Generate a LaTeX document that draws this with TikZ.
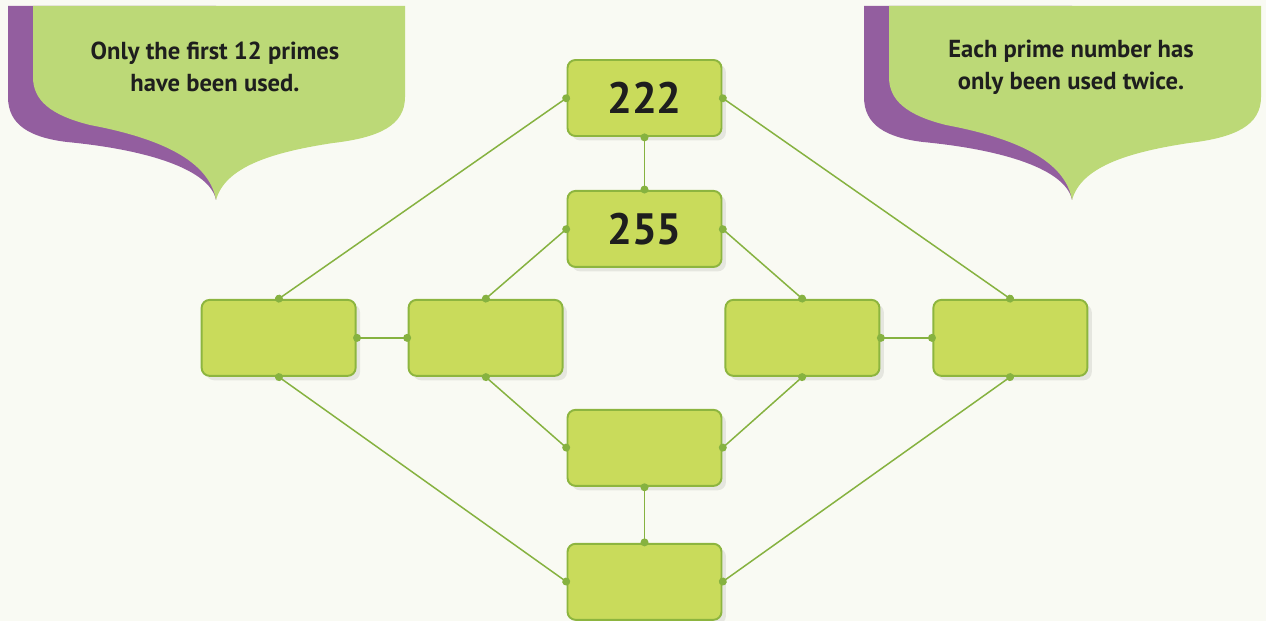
\documentclass[tikz,border=0pt]{standalone}
\usepackage{fontspec}
\setmainfont{PT Sans}
\usepackage{tikz}
\usetikzlibrary{arrows.meta,positioning,shadows}

\definecolor{paper}{HTML}{F9FAF3}
\definecolor{boxfill}{HTML}{C9DB5B}
\definecolor{boxline}{HTML}{8DB53F}
\definecolor{linkgreen}{HTML}{86B240}
\definecolor{notegreen}{HTML}{BCD977}
\definecolor{notepurple}{HTML}{935E9F}
\definecolor{ink}{HTML}{1E1E1E}

\begin{document}
\begin{tikzpicture}[node distance=1.06cm,
	semithick]
	\tikzstyle{numbox}=[draw=boxline,line width=1.1pt,fill=boxfill,rounded corners=0.16cm,
		minimum width=3.08cm,minimum height=1.52cm,inner sep=0pt,text=ink,
		font=\fontsize{25}{30}\selectfont\bfseries,
		drop shadow={shadow xshift=2.5pt,shadow yshift=-2.5pt,opacity=0.08,fill=black}]
	\tikzstyle{link}=[draw=linkgreen,line width=0.85pt,shorten >=-2pt,shorten <=-2pt,
		{Circle[length=4.5pt]}-{Circle[length=4.5pt]}]
	\tikzstyle{notetext}=[align=center,text=ink,font=\fontsize{14}{18}\selectfont\bfseries]
	
	\fill[paper] (0,0) rectangle (25.32,-12.42);
	\useasboundingbox (0,0) rectangle (25.32,-12.42);
	
	% the two speech bubbles
	\foreach \dx/\side/\txt in {0/L/{Only the first 12 primes\\have been used.},
		17.12/R/{Each prime number has\\only been used twice.}}{
		\begin{scope}[xshift=\dx cm]
			\fill[notepurple] (0.16,-0.12) -- (4.32,-0.12) -- (4.32,-4.0)
				.. controls (4.2,-3.4) and (3.0,-3.0) .. (1.34,-2.84)
				.. controls (0.6,-2.75) and (0.16,-2.5) .. (0.16,-1.94) -- cycle;
			\fill[notegreen] (0.66,-0.12) -- (8.10,-0.12) -- (8.10,-1.94)
				.. controls (8.10,-2.5) and (7.6,-2.75) .. (6.66,-2.86)
				.. controls (5.4,-3.05) and (4.5,-3.35) .. (4.32,-4.0)
				.. controls (4.2,-3.3) and (3.4,-2.8) .. (1.8,-2.5)
				.. controls (1.0,-2.3) and (0.66,-2.0) .. (0.66,-1.54) -- cycle;
			\node[notetext] (note\side) at (4.3,-1.34) {\txt};
		\end{scope}
	}
	
	\node[numbox] (top) at (12.89,-1.96)                       {222};
	\node[numbox] (mid) [below=of top]                         {255};
	\node[numbox] (L2)  [below left=0.62cm and 0.06cm of mid]  {};
	\node[numbox] (L1)  [left=1.02cm of L2]                    {};
	\node[numbox] (R1)  [below right=0.62cm and 0.04cm of mid] {};
	\node[numbox] (R2)  [right=1.04cm of R1]                   {};
	\node[numbox] (low) [below=2.82cm of mid]                  {};
	\node[numbox] (bot) [below=1.12cm of low]                  {};
	
	\path[link] (top.south) -- (mid.north);
	\path[link] (top.west) -- (L1.north);
	\path[link] (top.east) -- (R2.north);
	\path[link] (mid.west) -- (L2.north);
	\path[link] (mid.east) -- (R1.north);
	\path[link] (L1.east) -- (L2.west);
	\path[link] (R1.east) -- (R2.west);
	\path[link] (L2.south) -- (low.west);
	\path[link] (R1.south) -- (low.east);
	\path[link] (low.south) -- (bot.north);
	\path[link] (L1.south) -- (bot.west);
	\path[link] (R2.south) -- (bot.east);
\end{tikzpicture}
\end{document}
